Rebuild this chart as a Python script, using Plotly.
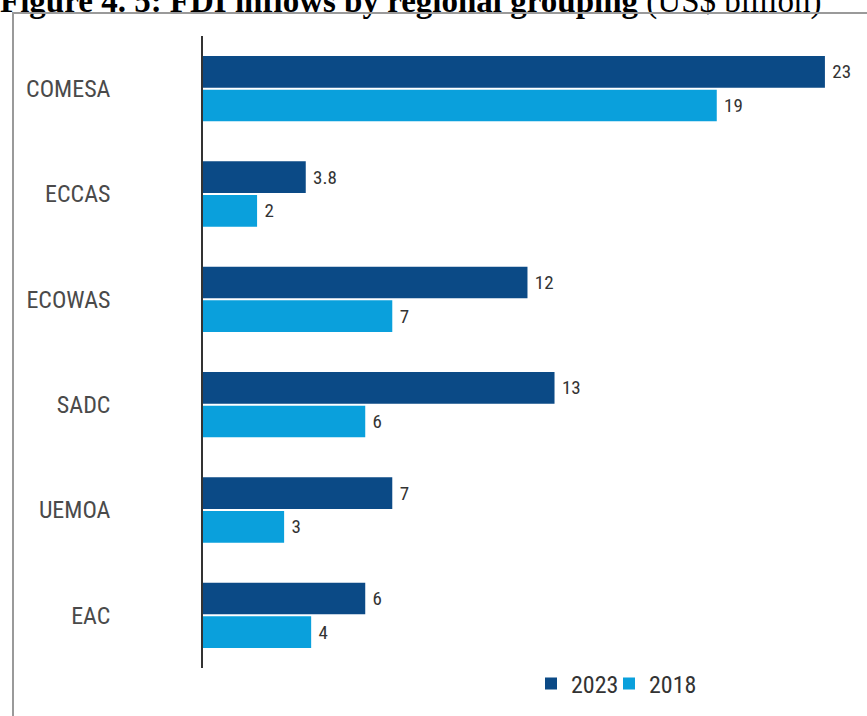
import plotly.graph_objects as go

categories = ["COMESA", "ECCAS", "ECOWAS", "SADC", "UEMOA", "EAC"]
values_2023 = [23, 3.8, 12, 13, 7, 6]
values_2018 = [19, 2, 7, 6, 3, 4]
series_names = ["2023", "2018"]

W, H = 867, 716
L, R, T, B = 203, 2, 36, 48
pw = W - L - R
ph = H - T - B

def px_x(p):
    return (p - L) / pw

def px_y(p):
    return (H - B - p) / ph

narrow = "Liberation Sans Narrow, Roboto Condensed, DejaVu Sans Condensed, Arial Narrow, sans-serif"

fig = go.Figure()
for name, vals, col, lg in [(series_names[0], values_2023, "#0B4A86", "legend"),
                            (series_names[1], values_2018, "#0AA0DC", "legend2")]:
    fig.add_trace(go.Bar(
        y=categories, x=vals, name=name, orientation="h", legend=lg,
        marker=dict(color=col, line=dict(width=0)),
        text=[" " + (f"{v:g}") for v in vals],
        textposition="outside", cliponaxis=False, constraintext="none",
        textfont=dict(family=narrow, size=19, color="#333333"),
    ))

leg_common = dict(orientation="h", xanchor="left", yanchor="middle", y=px_y(684),
                  font=dict(family=narrow, size=24, color="#333333"),
                  itemwidth=30, bgcolor="rgba(0,0,0,0)")

fig.update_layout(
    width=W, height=H,
    margin=dict(l=L, r=R, t=T, b=B, pad=0),
    paper_bgcolor="white", plot_bgcolor="white",
    barmode="group", bargap=0.36, bargroupgap=0.06,
    title=dict(
        text="<b>Figure 4. 5: FDI inflows by regional grouping</b> (US$ billion)",
        xref="container", yref="container", x=0, y=1, xanchor="left", yanchor="middle",
        pad=dict(l=0, r=0, t=0, b=0),
        font=dict(family="Liberation Serif, Times New Roman, serif", size=33, color="black"),
    ),
    xaxis=dict(range=[0, (W - R - L) / 27.04], visible=False),
    yaxis=dict(autorange="reversed", showline=True, linecolor="#333333", linewidth=1.5,
               ticks="", showgrid=False, ticklabelstandoff=86,
               tickfont=dict(family=narrow, size=24, color="#4a4a4a")),
    legend=dict(x=px_x(531), **leg_common),
    legend2=dict(x=px_x(609), **leg_common),
    showlegend=True,
    shapes=[
        dict(type="rect", xref="paper", yref="paper", x0=px_x(12), x1=px_x(866),
             y0=px_y(14), y1=px_y(12), line=dict(width=0), fillcolor="#9a9a9a", layer="above"),
        dict(type="rect", xref="paper", yref="paper", x0=px_x(12), x1=px_x(14),
             y0=px_y(716), y1=px_y(12), line=dict(width=0), fillcolor="#9a9a9a", layer="above"),
    ],
)

post = (
    "document.body.style.margin='0';document.body.style.overflow='hidden';"
    "var b=document.createElement('div');"
    "b.style.cssText='position:absolute;left:12px;top:12px;width:900px;height:800px;"
    "border-top:2px solid #9a9a9a;border-left:2px solid #9a9a9a;pointer-events:none;z-index:10;';"
    "document.body.appendChild(b);"
)

fig.write_html("out.html", config={"displayModeBar": False}, post_script=post)
